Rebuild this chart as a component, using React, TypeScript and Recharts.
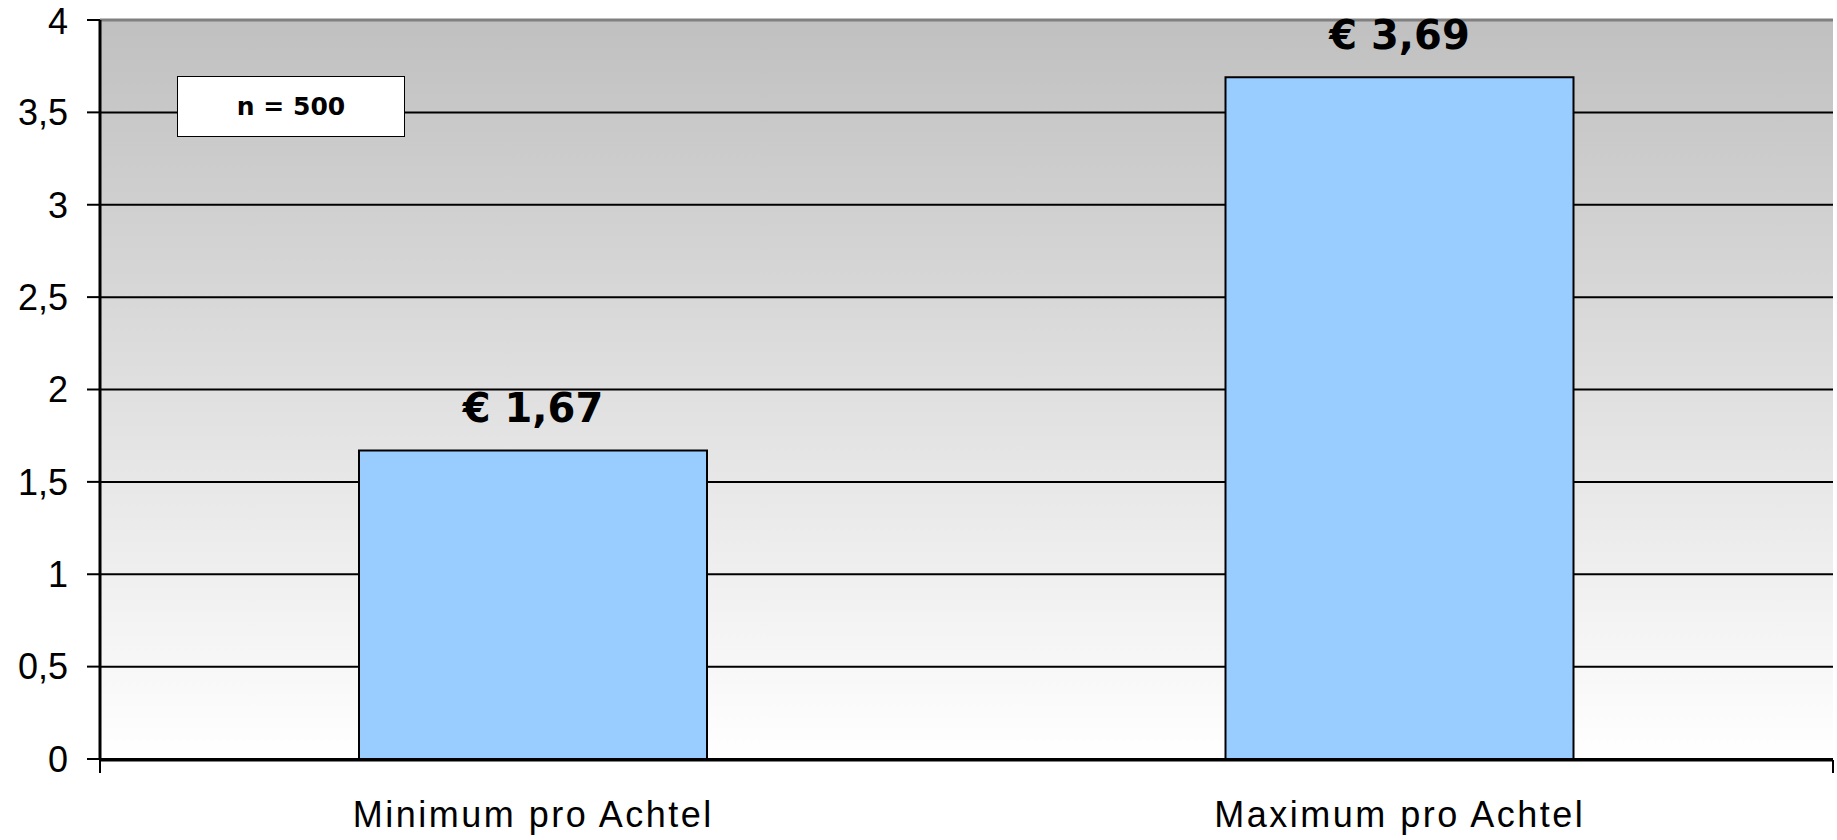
import {
  Bar,
  BarChart,
  CartesianGrid,
  LabelList,
  ReferenceLine,
  XAxis,
  YAxis,
} from "recharts";

const categories = ["Minimum pro Achtel", "Maximum pro Achtel"];
const prices = [1.67, 3.69];
const yTicks = [0, 0.5, 1, 1.5, 2, 2.5, 3, 3.5, 4];
const edgeTicks = [0, 1, 2];
const sampleNote = "n = 500";

const data = categories.map((name, i) => ({ name, price: prices[i] }));

const comma = (v: number) => String(v).replace(".", ",");
const euro = (v: any) => `€ ${Number(v).toFixed(2).replace(".", ",")}`;
const noLabel = () => <g />;

const App = () => {
  return (
    <div style={{ position: "absolute", left: 0, top: 0, width: 1837, height: 840 }}>
      <BarChart
        width={1837}
        height={840}
        data={data}
        margin={{ top: 20, right: 4, left: 0, bottom: 0 }}
        barSize={348}
      >
        <defs>
          <linearGradient id="plotBg" x1="0" y1="0" x2="0" y2="1">
            <stop offset="0%" stopColor="#c0c0c0" />
            <stop offset="100%" stopColor="#ffffff" />
          </linearGradient>
        </defs>
        <CartesianGrid
          vertical={false}
          fill="url(#plotBg)"
          stroke="#000"
          strokeWidth={2}
        />
        {/* category labels sit on a 1px axis, the edge axis below holds the space */}
        <XAxis
          dataKey="name"
          height={1}
          axisLine={false}
          tickLine={false}
          tickSize={0}
          tickMargin={42}
          interval={0}
          tick={{
            fill: "#000",
            fontSize: 36,
            letterSpacing: 2.5,
            fontFamily: "Liberation Sans, Arial, sans-serif",
          }}
        />
        <XAxis
          xAxisId="edges"
          type="number"
          domain={[0, 2]}
          ticks={edgeTicks}
          interval={0}
          tick={noLabel}
          height={80}
          tickSize={13}
          axisLine={{ stroke: "#000", strokeWidth: 3 }}
          tickLine={{ stroke: "#000", strokeWidth: 2 }}
        />
        <YAxis
          width={100}
          domain={[0, 4]}
          ticks={yTicks}
          tickFormatter={comma}
          tickSize={13}
          tickMargin={19}
          axisLine={{ stroke: "#000", strokeWidth: 3 }}
          tickLine={{ stroke: "#000", strokeWidth: 2 }}
          tick={{ fill: "#000", fontSize: 36, fontFamily: "Liberation Sans, Arial, sans-serif" }}
        />
        <ReferenceLine y={4} stroke="#808080" strokeWidth={3} />
        <ReferenceLine x={2} xAxisId="edges" stroke="#808080" strokeWidth={3} />
        <Bar
          dataKey="price"
          fill="#99ccff"
          stroke="#000"
          strokeWidth={2}
          isAnimationActive={false}
        >
          <LabelList
            dataKey="price"
            position="top"
            offset={28}
            formatter={euro}
            fill="#000"
            fontSize={40}
            fontWeight="bold"
            fontFamily="DejaVu Sans, Verdana, sans-serif"
          />
        </Bar>
      </BarChart>
      <div
        style={{
          position: "absolute",
          left: 177,
          top: 76,
          width: 226,
          height: 59,
          border: "1px solid #000",
          background: "#fff",
          display: "flex",
          alignItems: "center",
          justifyContent: "center",
          fontFamily: "DejaVu Sans, Verdana, sans-serif",
          fontWeight: "bold",
          fontSize: 25,
        }}
      >
        {sampleNote}
      </div>
    </div>
  );
};

export default App;
